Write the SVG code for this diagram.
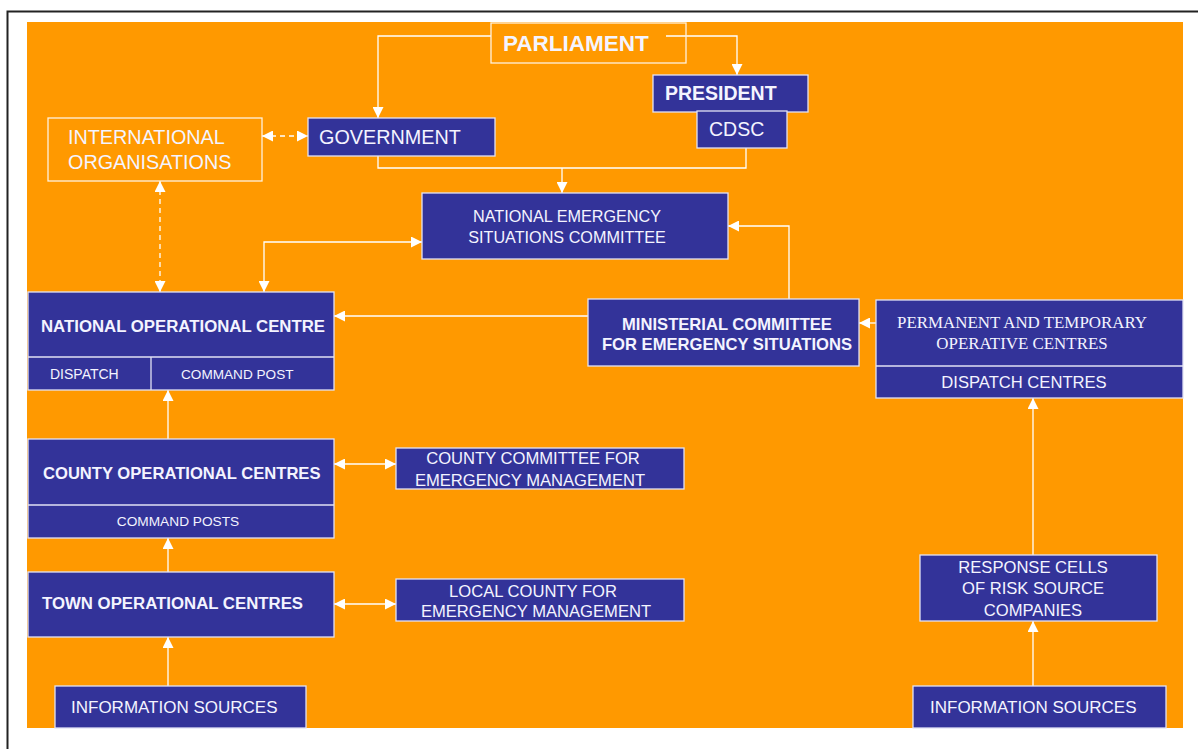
<svg xmlns="http://www.w3.org/2000/svg" width="1198" height="749" viewBox="0 0 1198 749">
  <style>
    .bg { fill: #FF9900; }
    .box { fill: #333399; stroke: #E2E2F4; stroke-width: 1.3; }
    .obox { fill: none; stroke: #FFF2DD; stroke-width: 1.3; }
    .div { stroke: #E2E2F4; stroke-width: 1.3; }
    .t { font-family: "Liberation Sans", Arial, sans-serif; fill: #F4F4FF; }
    .b { font-weight: bold; }
    .serif { font-family: "Liberation Serif", "Times New Roman", serif; fill: #F4F4FF; }
    .mid { text-anchor: middle; }
    .conn path { fill: none; stroke: #FFFFFF; stroke-width: 1.3; }
    .conn path.dash { stroke-dasharray: 5 4; }
  </style>
  <defs>
    <marker id="ah" viewBox="0 0 10 10" refX="10" refY="5" markerWidth="11" markerHeight="11" markerUnits="userSpaceOnUse" orient="auto-start-reverse">
      <path d="M0,0 L10,5 L0,10 z" fill="#FFFFFF"/>
    </marker>
  </defs>

  <!-- page frame -->
  <rect x="0" y="0" width="1198" height="749" fill="#FFFFFF"/>
  <path d="M7.5,749 V11.5 H1198" fill="none" stroke="#222222" stroke-width="2"/>
  <rect class="bg" x="27" y="22" width="1156" height="706"/>

  <!-- connectors -->
  <g id="connectors" class="conn">
    <path d="M491,36 H378 V118" marker-end="url(#ah)"/>
    <path d="M666,36 H737 V75" marker-end="url(#ah)"/>
    <path d="M378,156 V168 H746 V148"/>
    <path d="M562,168 V193" marker-end="url(#ah)"/>
    <path class="dash" d="M262,136 H308" marker-start="url(#ah)" marker-end="url(#ah)"/>
    <path class="dash" d="M160,181 V292" marker-start="url(#ah)" marker-end="url(#ah)"/>
    <path d="M264,292 V242 H422" marker-start="url(#ah)" marker-end="url(#ah)"/>
    <path d="M789,299 V226 H728" marker-end="url(#ah)"/>
    <path d="M588,316 H334" marker-end="url(#ah)"/>
    <path d="M876,323 H859" marker-end="url(#ah)"/>
    <path d="M1033,555 V398" marker-end="url(#ah)"/>
    <path d="M1033,686 V621" marker-end="url(#ah)"/>
    <path d="M168,686 V637" marker-end="url(#ah)"/>
    <path d="M168,572 V538" marker-end="url(#ah)"/>
    <path d="M168,439 V390" marker-end="url(#ah)"/>
    <path d="M334,464 H396" marker-start="url(#ah)" marker-end="url(#ah)"/>
    <path d="M334,604 H396" marker-start="url(#ah)" marker-end="url(#ah)"/>
  </g>

  <g id="parliament">
    <rect class="obox" x="491" y="23" width="195" height="40"/>
    <text class="t b" x="503" y="51" font-size="22.5">PARLIAMENT</text>
  </g>

  <g id="president">
    <rect class="box" x="653" y="75" width="155" height="37"/>
    <text class="t b" x="665" y="100" font-size="19.5">PRESIDENT</text>
  </g>

  <g id="cdsc">
    <rect class="box" x="697" y="111" width="90" height="37"/>
    <text class="t" x="709" y="136" font-size="19.5">CDSC</text>
  </g>

  <g id="government">
    <rect class="box" x="308" y="118" width="187" height="38"/>
    <text class="t" x="319" y="144" font-size="19.8">GOVERNMENT</text>
  </g>

  <g id="international-organisations">
    <rect class="obox" x="48" y="118" width="214" height="63"/>
    <text class="t" x="68" y="144" font-size="19.8">INTERNATIONAL</text>
    <text class="t" x="68" y="169" font-size="19.8">ORGANISATIONS</text>
  </g>

  <g id="national-emergency-situations-committee">
    <rect class="box" x="422" y="193" width="306" height="66"/>
    <text class="t mid" x="567" y="222" font-size="16.2">NATIONAL EMERGENCY</text>
    <text class="t mid" x="567" y="243" font-size="16.2">SITUATIONS COMMITTEE</text>
  </g>

  <g id="national-operational-centre">
    <rect class="box" x="28" y="292" width="306" height="98"/>
    <line class="div" x1="28" y1="357" x2="334" y2="357"/>
    <line class="div" x1="151" y1="357" x2="151" y2="390"/>
    <text class="t b" x="41" y="332" font-size="16.8">NATIONAL OPERATIONAL CENTRE</text>
    <text class="t" x="50" y="379" font-size="14">DISPATCH</text>
    <text class="t" x="181" y="379" font-size="13.6">COMMAND POST</text>
  </g>

  <g id="ministerial-committee">
    <rect class="box" x="588" y="299" width="271" height="67"/>
    <text class="t b mid" x="727" y="330" font-size="16.6">MINISTERIAL COMMITTEE</text>
    <text class="t b mid" x="727" y="350" font-size="16.6">FOR EMERGENCY SITUATIONS</text>
  </g>

  <g id="operative-centres">
    <rect class="box" x="876" y="300" width="307" height="98"/>
    <line class="div" x1="876" y1="366" x2="1183" y2="366"/>
    <text class="serif mid" x="1022" y="328" font-size="16.9">PERMANENT AND TEMPORARY</text>
    <text class="serif mid" x="1022" y="349" font-size="16.9">OPERATIVE CENTRES</text>
    <text class="t mid" x="1024" y="388" font-size="16.6">DISPATCH CENTRES</text>
  </g>

  <g id="county-operational-centres">
    <rect class="box" x="28" y="439" width="306" height="99"/>
    <line class="div" x1="28" y1="505" x2="334" y2="505"/>
    <text class="t b" x="43" y="479" font-size="16.6">COUNTY OPERATIONAL CENTRES</text>
    <text class="t mid" x="178" y="526" font-size="13.7">COMMAND POSTS</text>
  </g>

  <g id="county-committee">
    <rect class="box" x="396" y="448" width="288" height="41"/>
    <text class="t mid" x="533" y="464" font-size="16.6">COUNTY COMMITTEE FOR</text>
    <text class="t mid" x="530" y="486" font-size="16.6">EMERGENCY MANAGEMENT</text>
  </g>

  <g id="town-operational-centres">
    <rect class="box" x="28" y="572" width="306" height="65"/>
    <text class="t b" x="42" y="609" font-size="16.8">TOWN OPERATIONAL CENTRES</text>
  </g>

  <g id="local-county">
    <rect class="box" x="396" y="579" width="288" height="42"/>
    <text class="t mid" x="533" y="597" font-size="16.6">LOCAL COUNTY FOR</text>
    <text class="t mid" x="536" y="617" font-size="16.6">EMERGENCY MANAGEMENT</text>
  </g>

  <g id="response-cells">
    <rect class="box" x="920" y="555" width="237" height="66"/>
    <text class="t mid" x="1033" y="573" font-size="16.6">RESPONSE CELLS</text>
    <text class="t mid" x="1033" y="594" font-size="16.6">OF RISK SOURCE</text>
    <text class="t mid" x="1033" y="616" font-size="16.6">COMPANIES</text>
  </g>

  <g id="information-sources-left">
    <rect class="box" x="55" y="686" width="251" height="42"/>
    <text class="t" x="71" y="713" font-size="17">INFORMATION SOURCES</text>
  </g>

  <g id="information-sources-right">
    <rect class="box" x="913" y="686" width="253" height="42"/>
    <text class="t" x="930" y="713" font-size="17">INFORMATION SOURCES</text>
  </g>
</svg>
